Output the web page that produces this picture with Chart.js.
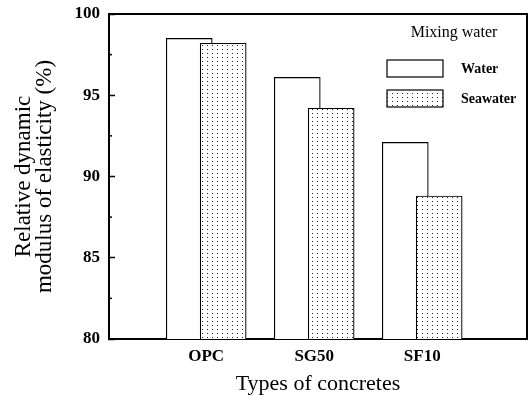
<!DOCTYPE html>
<html>
<head>
<meta charset="utf-8">
<script src="https://cdn.jsdelivr.net/npm/chart.js@4.4.1/dist/chart.umd.min.js"></script>
<style>
  html, body { margin: 0; padding: 0; background: #fff; }
</style>
</head>
<body>
<canvas id="myChart" width="532" height="399"></canvas>
<script>
const categories = ["OPC", "SG50", "SF10"];
const waterValues = [98.5, 96.1, 92.1];
const seawaterValues = [98.2, 94.2, 88.8];
const seriesNames = ["Water", "Seawater"];
const legendTitle = "Mixing water";

const serif = "'Liberation Serif', 'Times New Roman', serif";
const shift = 0.157; // bars of a pair sit either side of the category and overlap

// dotted fill, like the print
function dotPattern(ctx) {
    var c = document.createElement('canvas');
    c.width = 5; c.height = 4;
    var g = c.getContext('2d');
    g.fillStyle = '#fff';
    g.fillRect(0, 0, 5, 4);
    g.fillStyle = '#222';
    g.fillRect(2, 1, 1, 1);
    return ctx.createPattern(c, 'repeat');
}

const frame = {
    id: 'frame',
    afterDraw(chart) {
        const { ctx, chartArea: a } = chart;
        ctx.save();
        ctx.strokeStyle = '#000';
        ctx.lineWidth = 2;
        ctx.beginPath();
        ctx.moveTo(a.left, a.top);
        ctx.lineTo(a.right, a.top);
        ctx.lineTo(a.right, a.bottom);
        ctx.stroke();
        // short minor ticks between the labelled ones
        const y = chart.scales.y;
        ctx.lineWidth = 1.5;
        for (let v = 82.5; v < 100; v += 5) {
            const py = y.getPixelForValue(v);
            ctx.beginPath();
            ctx.moveTo(a.left, py);
            ctx.lineTo(a.left + 3, py);
            ctx.stroke();
        }
        ctx.restore();
    }
};

const boxLegend = {
    id: 'boxLegend',
    afterDraw(chart) {
        const { ctx, chartArea: a } = chart;
        ctx.save();
        ctx.fillStyle = '#000';
        ctx.textBaseline = 'middle';
        ctx.textAlign = 'center';
        ctx.font = '16px ' + serif;
        ctx.fillText(legendTitle, a.right - 73, a.top + 19);
        ctx.textAlign = 'left';
        ctx.font = 'bold 14px ' + serif;
        chart.data.datasets.forEach((ds, i) => {
            const top = a.top + 46 + i * 30;
            ctx.fillStyle = ds.backgroundColor;
            ctx.fillRect(a.right - 140, top, 56, 17);
            ctx.strokeStyle = '#000';
            ctx.lineWidth = 1.2;
            ctx.strokeRect(a.right - 140, top, 56, 17);
            ctx.fillStyle = '#000';
            ctx.fillText(ds.label, a.right - 66, top + 9);
        });
        ctx.restore();
    }
};

var ctx = document.getElementById('myChart').getContext('2d');
var myChart = new Chart(ctx, {
    type: 'bar',
    data: {
        datasets: [{
            label: seriesNames[0],
            data: waterValues.map((v, i) => ({ x: i + 1 - shift, y: v })),
            backgroundColor: '#fff',
            borderColor: '#000',
            borderWidth: 1.2,
            order: 2
        }, {
            label: seriesNames[1],
            data: seawaterValues.map((v, i) => ({ x: i + 1 + shift, y: v })),
            backgroundColor: dotPattern(ctx),
            borderColor: '#000',
            borderWidth: 1.2,
            order: 1
        }]
    },
    options: {
        responsive: false,
        animation: false,
        grouped: false,
        barThickness: 46,
        layout: { padding: { top: 14, right: 5, left: 0, bottom: 0 } },
        plugins: { legend: { display: false }, tooltip: { enabled: false } },
        scales: {
            x: {
                type: 'linear',
                offset: false,
                min: 0.1,
                max: 3.97,
                afterBuildTicks: (axis) => { axis.ticks = categories.map((c, i) => ({ value: i + 1 })); },
                afterFit: (axis) => { axis.height = 60; },
                grid: { offset: false, drawOnChartArea: false, drawTicks: false },
                border: { color: '#000', width: 2 },
                ticks: {
                    padding: 7,
                    color: '#000',
                    font: { family: serif, size: 17, weight: 'bold' },
                    callback: (v) => categories[v - 1]
                },
                title: {
                    display: true,
                    text: 'Types of concretes',
                    color: '#000',
                    font: { family: serif, size: 22 },
                    padding: { top: 0, bottom: 2 }
                }
            },
            y: {
                min: 80,
                max: 100,
                afterFit: (axis) => {
                    axis.width = 109;
                    axis.paddingTop = 0;
                    axis.paddingBottom = 0;
                },
                grid: { drawOnChartArea: false, tickLength: -6, tickColor: '#000', tickWidth: 1.5 },
                border: { color: '#000', width: 2 },
                ticks: {
                    stepSize: 5,
                    padding: 15,
                    color: '#000',
                    font: { family: serif, size: 17, weight: 'bold' }
                },
                title: {
                    display: true,
                    text: ['Relative dynamic', 'modulus of elasticity (%)'],
                    color: '#000',
                    font: { family: serif, size: 23, lineHeight: 0.9 },
                    padding: { top: 14, bottom: 0 }
                }
            }
        }
    },
    plugins: [frame, boxLegend]
});
</script>
</body>
</html>
